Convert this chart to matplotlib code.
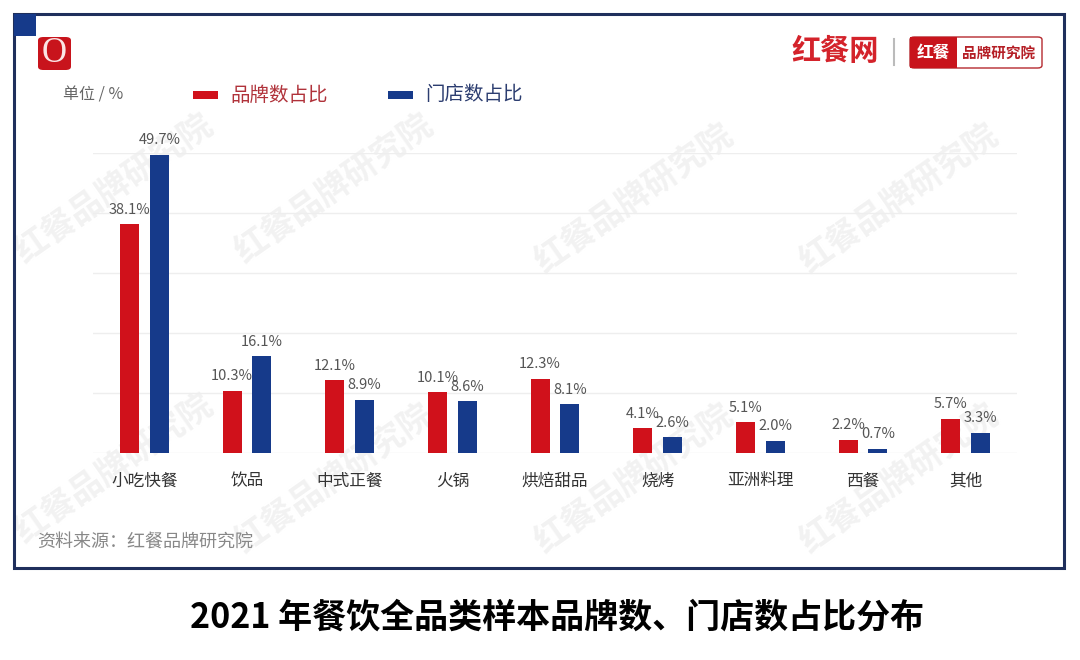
import numpy as np
import matplotlib
matplotlib.use('Agg')
import matplotlib.pyplot as plt
from matplotlib.patches import Rectangle, FancyBboxPatch

plt.rcParams['font.family'] = ['Noto Sans CJK SC', 'DejaVu Sans']

categories = ['小吃快餐', '饮品', '中式正餐', '火锅', '烘焙甜品', '烧烤', '亚洲料理', '西餐', '其他']
brand_share = [38.1, 10.3, 12.1, 10.1, 12.3, 4.1, 5.1, 2.2, 5.7]
store_share = [49.7, 16.1, 8.9, 8.6, 8.1, 2.6, 2.0, 0.7, 3.3]
series_names = ['品牌数占比', '门店数占比']
title = '2021 年餐饮全品类样本品牌数、门店数占比分布'
source = '资料来源：红餐品牌研究院'

red = '#d0111b'
blue = '#163a8a'
W, H = 1080, 660

fig = plt.figure(figsize=(W / 100, H / 100), dpi=100)
fig.patch.set_facecolor('white')

# helper: pixel (from top-left) -> figure fraction
def px(x, y):
    return x / W, 1 - y / H

# watermarks, behind everything
for (wx, wy) in [(115, 190), (335, 190), (635, 200), (900, 200),
                 (115, 470), (335, 480), (635, 480), (900, 480)]:
    fig.text(*px(wx, wy), '红餐品牌研究院', rotation=35, color='#f2f2f2', fontsize=24,
             fontweight='bold', ha='center', va='center', zorder=-5)

frame = Rectangle(px(14, 568), (1064 - 14) / W, (568 - 14) / H, transform=fig.transFigure,
                  fill=False, edgecolor='#1f2f5c', linewidth=2.2, zorder=1)
fig.patches.append(frame)
sq = Rectangle(px(14, 36), 22 / W, 22 / H, transform=fig.transFigure,
               facecolor='#163a8a', edgecolor='none', zorder=2)
fig.patches.append(sq)
logo = FancyBboxPatch(px(38, 70), 33 / W, 33 / H, boxstyle='round,pad=0,rounding_size=0.005',
                      transform=fig.transFigure, facecolor='#c8141c', edgecolor='none', zorder=2)
fig.patches.append(logo)
fig.text(*px(54.5, 53), 'O', color='#fbe5e5', fontsize=25, ha='center', va='center',
         family='Liberation Serif', zorder=3)

# top-right brand
fig.text(*px(835, 51), '红餐网', color='#d4232b', fontsize=21, fontweight='bold',
         ha='center', va='center')
fig.lines.append(plt.Line2D([894 / W, 894 / W], [1 - 39 / H, 1 - 65 / H], transform=fig.transFigure,
                            color='#bbbbbb', linewidth=1.5))
box = FancyBboxPatch(px(910, 68), 132 / W, 31 / H, boxstyle='round,pad=0,rounding_size=0.004',
                     transform=fig.transFigure, facecolor='white', edgecolor='#b52a2f', linewidth=1)
fig.patches.append(box)
boxl = Rectangle(px(910, 68), 47 / W, 31 / H, transform=fig.transFigure,
                 facecolor='#c8141c', edgecolor='none')
fig.patches.append(boxl)
fig.text(*px(933, 53), '红餐', color='white', fontsize=12, fontweight='bold', ha='center', va='center')
fig.text(*px(999, 53), '品牌研究院', color='#b51f26', fontsize=10.5, fontweight='bold',
         ha='center', va='center')

# unit + legend
fig.text(*px(63, 95), '单位 / %', color='#666666', fontsize=11.5, ha='left', va='center')
fig.patches.append(Rectangle(px(193, 99), 25 / W, 8 / H, transform=fig.transFigure,
                             facecolor=red, edgecolor='none'))
fig.text(*px(230, 95), series_names[0], color='#b0323a', fontsize=14, ha='left', va='center')
fig.patches.append(Rectangle(px(388, 99), 25 / W, 8 / H, transform=fig.transFigure,
                             facecolor=blue, edgecolor='none'))
fig.text(*px(425, 95), series_names[1], color='#2c3d70', fontsize=14, ha='left', va='center')

# chart
ax = fig.add_axes([93 / W, 1 - 453 / H, 924 / W, 300 / H])
ax.set_zorder(1)
x = np.arange(len(categories))
bw = 0.185
off = 0.146
ax.bar(x - off, brand_share, bw, color=red, zorder=3)
ax.bar(x + off, store_share, bw, color=blue, zorder=3)
for xi, v in zip(x, brand_share):
    ax.text(xi - off, v + 1.3, f'{v}%', ha='center', va='bottom', fontsize=10.5, color='#555555')
for xi, v in zip(x, store_share):
    ax.text(xi + off, v + 1.3, f'{v}%', ha='center', va='bottom', fontsize=10.5, color='#555555')

ax.set_xlim(-0.5, len(categories) - 0.5)
ax.set_ylim(0, 50)
ax.set_yticks(np.arange(0, 51, 10))
ax.yaxis.grid(True, color='#eeeeee', linewidth=1, zorder=0)
ax.set_yticklabels([])
ax.tick_params(axis='y', length=0)
ax.tick_params(axis='x', length=0, pad=14)
ax.set_xticks(x)
ax.set_xticklabels(categories, fontsize=12, color='#333333')
for s in ax.spines.values():
    s.set_visible(False)
ax.set_facecolor('none')

fig.text(*px(37, 542), source, color='#888888', fontsize=13, ha='left', va='center')
fig.text(*px(557, 617), title, color='black', fontsize=24.5, fontweight='bold', ha='center', va='center')

fig.savefig('out.png', dpi=100)
